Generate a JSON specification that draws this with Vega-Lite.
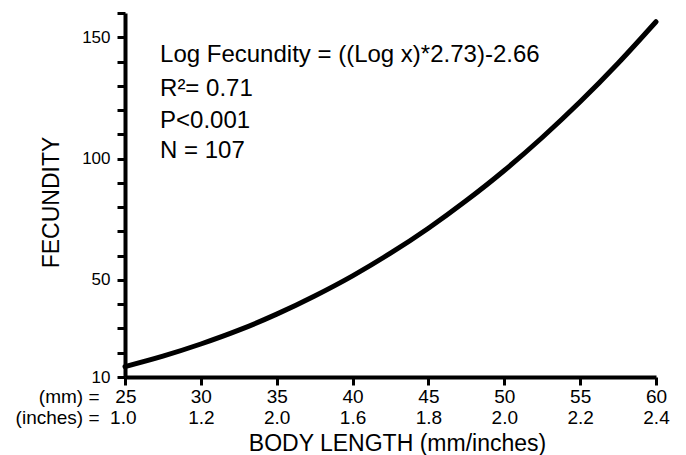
{
  "$schema": "https://vega.github.io/schema/vega-lite/v6.json",
  "autosize": {"type": "none"},
  "padding": {"left": 125, "top": 13, "right": 30, "bottom": 78},
  "width": 531,
  "height": 364,
  "background": "white",
  "config": {
    "view": {"stroke": null},
    "font": "Liberation Sans",
    "axis": {
      "domainColor": "black",
      "tickColor": "black",
      "labelColor": "black",
      "titleColor": "black",
      "grid": false,
      "labelFont": "Liberation Sans",
      "titleFont": "Liberation Sans",
      "titleFontWeight": "normal"
    }
  },
  "layer": [
    {
      "data": {
        "values": [
          {"length": 25, "fecundity": 14.3},
          {"length": 27.5, "fecundity": 18.6},
          {"length": 30, "fecundity": 23.6},
          {"length": 32.5, "fecundity": 29.3},
          {"length": 35, "fecundity": 35.9},
          {"length": 37.5, "fecundity": 43.4},
          {"length": 40, "fecundity": 51.7},
          {"length": 42.5, "fecundity": 61.0},
          {"length": 45, "fecundity": 71.3},
          {"length": 47.5, "fecundity": 82.7},
          {"length": 50, "fecundity": 95.1},
          {"length": 52.5, "fecundity": 108.7},
          {"length": 55, "fecundity": 123.4},
          {"length": 57.5, "fecundity": 139.3},
          {"length": 60, "fecundity": 156.4}
        ]
      },
      "mark": {"type": "line", "color": "black", "strokeWidth": 5, "interpolate": "monotone", "strokeCap": "round"},
      "encoding": {
        "x": {
          "field": "length",
          "type": "quantitative",
          "scale": {"domain": [25, 60], "nice": false, "zero": false},
          "axis": {
            "title": "BODY LENGTH (mm/inches)",
            "titleFontSize": 23,
            "titleX": 272,
            "titleY": 73,
            "titleBaseline": "alphabetic",
            "values": [25, 30, 35, 40, 45, 50, 55, 60],
            "tickCount": 20,
            "domainWidth": 4,
            "tickWidth": 3,
            "tickSize": 8,
            "labelFontSize": 19,
            "labelPadding": 2,
            "labelBaseline": "top",
            "labelLineHeight": 21,
            "labelFlush": false,
            "labelOverlap": false,
            "labelBound": false,
            "labelAlign": {"condition": {"test": "datum.value == 25", "value": "right"}, "value": "center"},
            "labelOffset": {"condition": {"test": "datum.value == 25", "value": 11}, "value": 0},
            "labelExpr": "datum.value == 25 ? ['(mm) =\u00a0\u00a0\u00a025', '(inches) =\u00a0\u00a01.0'] : datum.value == 30 ? ['30', '1.2'] : datum.value == 35 ? ['35', '2.0'] : datum.value == 40 ? ['40', '1.6'] : datum.value == 45 ? ['45', '1.8'] : datum.value == 50 ? ['50', '2.0'] : datum.value == 55 ? ['55', '2.2'] : ['60', '2.4']"
          }
        },
        "y": {
          "field": "fecundity",
          "type": "quantitative",
          "scale": {"domain": [10, 160], "nice": false, "zero": false},
          "axis": {
            "title": "FECUNDITY",
            "titleFontSize": 23,
            "titleX": -62,
            "titleY": 189,
            "titleBaseline": "bottom",
            "values": [10, 20, 30, 40, 50, 60, 70, 80, 90, 100, 110, 120, 130, 140, 150, 160],
            "tickCount": 30,
            "domainWidth": 4,
            "tickWidth": 3,
            "tickSize": 8,
            "labelFontSize": 17,
            "labelPadding": 7,
            "labelOverlap": false,
            "labelBound": false,
            "labelFlush": false,
            "labelExpr": "indexof([10, 50, 100, 150], datum.value) >= 0 ? datum.label : ''"
          }
        }
      }
    },
    {
      "data": {
        "values": [
          {"length": 27.31, "fecundity": 139.7, "text": "Log Fecundity = ((Log x)*2.73)-2.66"},
          {"length": 27.31, "fecundity": 125.8, "text": "R²= 0.71"},
          {"length": 27.31, "fecundity": 112.5, "text": "P<0.001"},
          {"length": 27.31, "fecundity": 100.1, "text": "N = 107"}
        ]
      },
      "mark": {"type": "text", "align": "left", "baseline": "alphabetic", "fontSize": 24, "font": "Liberation Sans", "color": "black"},
      "encoding": {
        "x": {"field": "length", "type": "quantitative"},
        "y": {"field": "fecundity", "type": "quantitative"},
        "text": {"field": "text", "type": "nominal"}
      }
    }
  ]
}
